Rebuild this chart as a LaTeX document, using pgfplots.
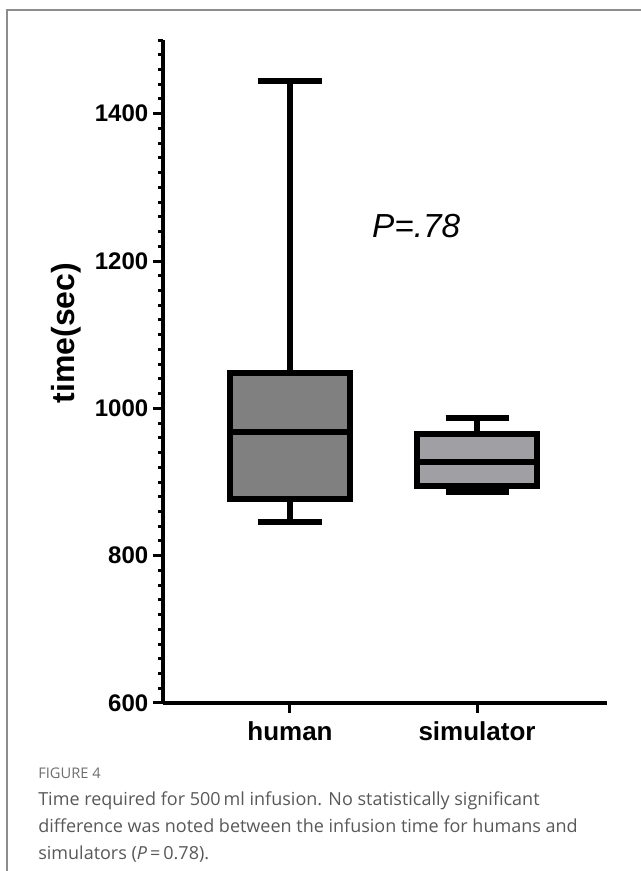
\documentclass[border=0pt]{standalone}
\usepackage{fontspec}
\setmainfont{Liberation Sans}
\newfontfamily\capfont{Open Sans}
\usepackage{pgfplots}
\pgfplotsset{compat=1.18}
\definecolor{humfill}{RGB}{128,128,128}
\definecolor{simfill}{RGB}{160,159,164}
\definecolor{framegray}{RGB}{140,140,140}
\definecolor{capgray}{RGB}{88,88,88}
\definecolor{figgray}{RGB}{110,110,110}

\begin{document}
\begin{tikzpicture}
\useasboundingbox (0pt,0pt) rectangle (480.75pt,653.25pt);
% frame around figure (left and top only)
\draw[framegray, line width=1.2pt] (5.25pt,0pt) -- (5.25pt,645.75pt) -- (480.75pt,645.75pt);

\begin{axis}[
  at={(122.25pt,126pt)}, anchor=south west,
  scale only axis, width=333pt, height=497.25pt,
  xmin=0.321, xmax=2.695, ymin=600, ymax=1500,
  axis x line=bottom, axis y line=left,
  axis line style={line width=3pt, -},
  xtick={1,2}, xticklabels={human,simulator},
  ytick={600,800,...,1400},
  minor ytick={620,640,...,1500},
  tick align=outside,
  major tick length=7.5pt, minor tick length=3.75pt,
  tick style={line width=2.25pt, black},
  y tick label style={font=\bfseries\fontsize{18}{18}\selectfont,
    /pgf/number format/assume math mode=true, /pgf/number format/1000 sep={}},
  x tick label style={font=\bfseries\fontsize{19.5}{19.5}\selectfont, yshift=-3pt},
  ylabel={time(sec)},
  ylabel style={font=\bfseries\fontsize{24}{24}\selectfont,
    at={(axis description cs:-0.218,0.558)}, anchor=center},
  clip=false,
  boxline/.style={black, line width=4.5pt, no markers},
]
% human: whisker 846--1445, box 877--1048, median 968
\addplot[boxline] coordinates {(1,846) (1,1445)};
\addplot[boxline, fill=humfill] coordinates {(0.679,877) (1.321,877) (1.321,1048) (0.679,1048)} -- cycle;
\addplot[boxline] coordinates {(0.679,968) (1.321,968)};
\addplot[boxline] coordinates {(0.8315,1445) (1.1685,1445)};
\addplot[boxline] coordinates {(0.8315,846) (1.1685,846)};
% simulator: whisker 887--987, box 895--965, median 927
\addplot[boxline] coordinates {(2,887) (2,987)};
\addplot[boxline, fill=simfill] coordinates {(1.679,895) (2.321,895) (2.321,965) (1.679,965)} -- cycle;
\addplot[boxline] coordinates {(1.679,927) (2.321,927)};
\addplot[boxline] coordinates {(1.8315,987) (2.1685,987)};
\addplot[boxline] coordinates {(1.8315,887) (2.1685,887)};
\node[font=\itshape\fontsize{25}{25}\selectfont] at (rel axis cs:0.57,0.72) {P=.78};
\end{axis}

% caption
\node[anchor=base west, font=\capfont\fontsize{11}{11}\selectfont, text=figgray, inner sep=0pt]
  at (28.5pt,69pt) {FIGURE 4};
\node[anchor=base west, font=\capfont\fontsize{13.5}{13.5}\selectfont, text=capgray, inner sep=0pt]
  at (28.5pt,48.75pt) {Time required for 500\,ml infusion. No statistically significant};
\node[anchor=base west, font=\capfont\fontsize{13.5}{13.5}\selectfont, text=capgray, inner sep=0pt]
  at (28.5pt,28.5pt) {difference was noted between the infusion time for humans and};
\node[anchor=base west, font=\capfont\fontsize{13.5}{13.5}\selectfont, text=capgray, inner sep=0pt]
  at (28.5pt,9pt) {simulators (\textit{P}\,=\,0.78).};
\end{tikzpicture}
\end{document}
